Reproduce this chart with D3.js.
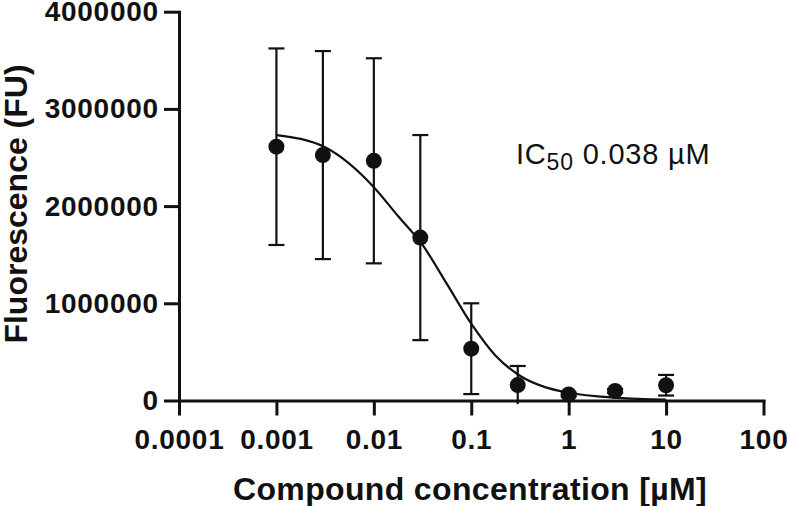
<!DOCTYPE html>
<html>
<head>
<meta charset="utf-8">
<script src="https://cdn.jsdelivr.net/npm/d3@7"></script>
<style>
  html, body { margin: 0; padding: 0; background: #fff; }
  svg { display: block; }
  text { font-family: "Liberation Sans", Arial, Helvetica, sans-serif; fill: #111; }
</style>
</head>
<body>
<svg id="chart" width="787" height="506"></svg>
<script>
// ---- data ----
const concentrations = [0.001, 0.003, 0.01, 0.03, 0.1, 0.3, 1, 3, 10];           // µM
const meanFluor      = [2611000, 2525000, 2466000, 1676000, 533000, 159000, 62000, 98000, 157000];
const sdFluor        = [1011000, 1070000, 1055000, 1055000, 467000, 196000, 20000, 20000, 106000];

// fitted dose-response curve
const curveConc  = [0.001, 0.00316, 0.01, 0.0178, 0.0316, 0.0562, 0.1, 0.178, 0.316, 0.562, 1, 3.16, 10];
const curveFluor = [2731000, 2605000, 2195000, 1895000, 1600000, 1200000, 790000, 460000, 255000, 140000, 80000, 28000, 10000];

const xTicks = [0.0001, 0.001, 0.01, 0.1, 1, 10, 100];
const xTickLabels = ["0.0001", "0.001", "0.01", "0.1", "1", "10", "100"];
const yTicks = [0, 1000000, 2000000, 3000000, 4000000];
const yTickLabels = ["0", "1000000", "2000000", "3000000", "4000000"];

const xTitle = "Compound concentration [µM]";
const yTitle = "Fluorescence (FU)";
const annotationMain = "IC";
const annotationSub = "50";
const annotationRest = " 0.038 µM";

// ---- drawing ----
const svg = d3.select("#chart");
const x = d3.scaleLog().domain([0.0001, 100]).range([179, 763.5]);
const y = d3.scaleLinear().domain([0, 4000000]).range([400.5, 11.7]);

const xAxis = d3.axisBottom(x)
  .tickValues(xTicks)
  .tickFormat((d, i) => xTickLabels[i])
  .tickSize(15).tickSizeOuter(0).tickPadding(14);
const yAxis = d3.axisLeft(y)
  .tickValues(yTicks)
  .tickFormat((d, i) => yTickLabels[i])
  .tickSize(15).tickSizeOuter(0).tickPadding(6);

const gx = svg.append("g").attr("transform", `translate(0,${y(0)})`).call(xAxis);
const gy = svg.append("g").attr("transform", `translate(${x(0.0001)},0)`).call(yAxis);

[gx, gy].forEach(g => {
  g.select(".domain").attr("stroke", "#111").attr("stroke-width", 3).attr("stroke-linecap", "square");
  g.selectAll(".tick line").attr("stroke", "#111").attr("stroke-width", 3);
  g.selectAll(".tick text")
    .style("font-family", "'Liberation Sans', Arial, sans-serif")
    .style("font-weight", "bold").style("font-size", "28px")
    .style("letter-spacing", "0.7px").attr("fill", "#111");
});
// compensate trailing letter-spacing on the right-anchored y labels
gy.selectAll(".tick text").attr("x", -21 + 0.7);

// fitted curve
const line = d3.line()
  .x((d, i) => x(curveConc[i]))
  .y((d, i) => y(curveFluor[i]))
  .curve(d3.curveMonotoneX);
svg.append("path")
  .datum(curveConc)
  .attr("d", line)
  .attr("fill", "none")
  .attr("stroke", "#111")
  .attr("stroke-width", 2.2);

// error bars
const capHalf = 8;
const eb = svg.append("g").attr("stroke", "#111").attr("stroke-width", 2.2);
concentrations.forEach((c, i) => {
  const hi = meanFluor[i] + sdFluor[i];
  const lo = meanFluor[i] - sdFluor[i];
  const cx = x(c);
  eb.append("line").attr("x1", cx).attr("x2", cx).attr("y1", y(hi)).attr("y2", y(lo));
  eb.append("line").attr("x1", cx - capHalf).attr("x2", cx + capHalf).attr("y1", y(hi)).attr("y2", y(hi));
  if (lo >= 0) {
    eb.append("line").attr("x1", cx - capHalf).attr("x2", cx + capHalf).attr("y1", y(lo)).attr("y2", y(lo));
  }
});

// points
svg.append("g").selectAll("circle")
  .data(concentrations)
  .join("circle")
  .attr("cx", d => x(d))
  .attr("cy", (d, i) => y(meanFluor[i]))
  .attr("r", 8)
  .attr("fill", "#111");

// axis titles
svg.append("text")
  .attr("x", 470).attr("y", 500)
  .attr("text-anchor", "middle")
  .style("font-size", "32px").style("font-weight", "bold")
  .style("letter-spacing", "0.35px")
  .text(xTitle);
svg.append("text")
  .attr("transform", "translate(27,204) rotate(-90)")
  .attr("text-anchor", "middle")
  .style("font-size", "32px").style("font-weight", "bold")
  .text(yTitle);

// annotation
const ann = svg.append("text")
  .attr("x", 516).attr("y", 164)
  .style("font-size", "29px")
  .style("letter-spacing", "0.8px");
ann.append("tspan").text(annotationMain);
ann.append("tspan").attr("dy", 6).style("font-size", "23px").text(annotationSub);
ann.append("tspan").attr("dy", -6).text(annotationRest);
</script>
</body>
</html>
